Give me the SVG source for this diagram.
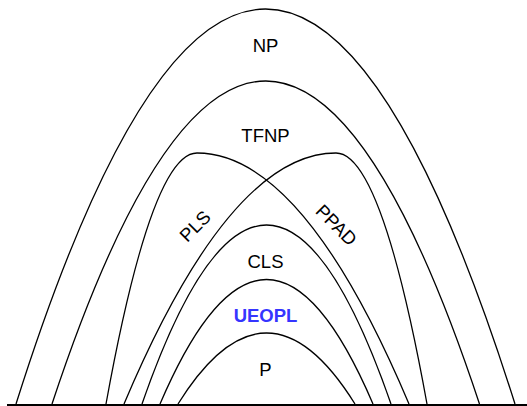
<svg xmlns="http://www.w3.org/2000/svg" width="527" height="406" viewBox="0 0 527 406">
<style>
.arc{fill:none;stroke:#000;stroke-width:1.3}
.lbl{font-family:"Liberation Sans",Arial,sans-serif;font-size:18.5px;fill:#000;text-anchor:middle}
.blue{fill:#3535ff;font-weight:bold}
</style>
<rect width="527" height="406" fill="#fff"/>
<g id="NP">
<path class="arc" d="M16,404 Q265.5,-386 515,404"/>
<text class="lbl" x="265.5" y="51.5">NP</text>
</g>
<g id="TFNP">
<path class="arc" d="M52,404 Q265.75,-242 479.5,404"/>
<text class="lbl" x="265.5" y="141.5">TFNP</text>
</g>
<g id="PLS">
<path class="arc" d="M106,404 Q151.5,153 197,153 Q303,153 409,404"/>
<text class="lbl" transform="translate(195,226) rotate(-45)" x="0" y="6.6">PLS</text>
</g>
<g id="PPAD">
<path class="arc" d="M124,404 Q230,153 336,153 Q381.5,153 427,404"/>
<text class="lbl" transform="translate(336.5,225) rotate(45)" x="0" y="6.6">PPAD</text>
</g>
<g id="CLS">
<path class="arc" d="M142,404 Q266.5,46 391,404"/>
<text class="lbl" x="265.5" y="267.8">CLS</text>
</g>
<g id="UEOPL">
<path class="arc" d="M160,404 Q266.5,155 373,404"/>
<text class="lbl blue" x="265.5" y="322">UEOPL</text>
</g>
<g id="P">
<path class="arc" d="M178,404 Q266.5,262 355,404"/>
<text class="lbl" x="265.5" y="376">P</text>
</g>
<g id="connectors">
<line x1="7" y1="405" x2="527" y2="405" stroke="#000" stroke-width="2"/>
</g>
</svg>
